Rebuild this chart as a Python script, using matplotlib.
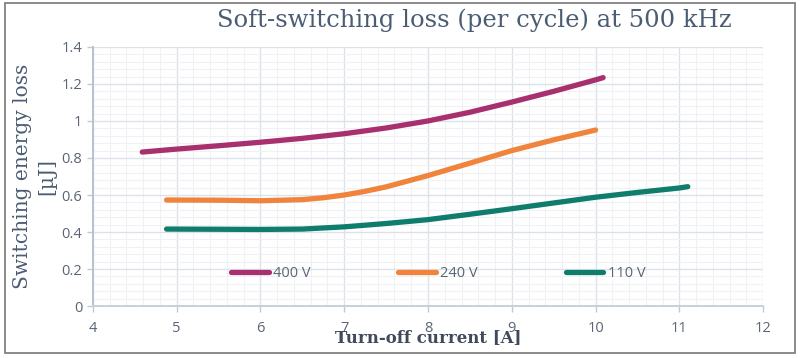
import matplotlib as mpl
import matplotlib.pyplot as plt
from matplotlib.patches import Rectangle
from matplotlib.ticker import MultipleLocator

# values
x_400 = [4.59, 5.0, 5.5, 6.0, 6.5, 7.0, 7.5, 8.0, 8.5, 9.0, 9.5, 10.0, 10.09]
y_400 = [0.832, 0.848, 0.866, 0.885, 0.906, 0.931, 0.962, 1.000, 1.047, 1.102, 1.160, 1.222, 1.234]

x_240 = [4.88, 5.5, 6.0, 6.5, 6.75, 7.0, 7.25, 7.5, 8.0, 8.5, 9.0, 9.5, 10.0]
y_240 = [0.573, 0.572, 0.569, 0.575, 0.585, 0.600, 0.620, 0.644, 0.705, 0.772, 0.840, 0.898, 0.951]

x_110 = [4.88, 5.5, 6.0, 6.5, 7.0, 7.5, 8.0, 8.5, 9.0, 9.5, 10.0, 10.5, 11.0, 11.1]
y_110 = [0.416, 0.415, 0.414, 0.416, 0.428, 0.446, 0.467, 0.496, 0.526, 0.557, 0.588, 0.614, 0.638, 0.645]

labels = ["400 V", "240 V", "110 V"]
colors = ["#a8306f", "#f0843c", "#0e7d6c"]

title_col = "#4b5d73"
tick_col = "#5b6575"

fig = plt.figure(figsize=(8, 3.58), dpi=100)
ax = fig.add_axes([0.116, 0.145, 0.838, 0.724])

for xs, ys, lab, c in zip([x_400, x_240, x_110], [y_400, y_240, y_110], labels, colors):
	ax.plot(xs, ys, color=c, lw=3.8, solid_capstyle='round', solid_joinstyle='round',
		label=lab, zorder=3)

ax.set_xlim(4, 12)
ax.set_ylim(0, 1.4)
ax.xaxis.set_major_locator(MultipleLocator(1))
ax.xaxis.set_minor_locator(MultipleLocator(0.2))
ax.yaxis.set_minor_locator(MultipleLocator(0.04))
ax.set_yticks([0, 0.2, 0.4, 0.6, 0.8, 1, 1.2, 1.4])
ax.set_yticklabels(["0", "0.2", "0.4", "0.6", "0.8", "1", "1.2", "1.4"])

ax.grid(which='major', color='#dde2ea', lw=1.0)
ax.grid(which='minor', color='#eff1f5', lw=0.8)
ax.set_axisbelow(True)

for s in ['top', 'right']:
	ax.spines[s].set_visible(False)
ax.spines['left'].set_color('#b7c2d0')
ax.spines['bottom'].set_color('#c9cfd9')
ax.spines['left'].set_linewidth(1.4)
ax.spines['bottom'].set_linewidth(1.4)

ax.tick_params(which='major', length=4.5, width=1.0, color='#c0c8d4', labelcolor=tick_col,
	labelsize=10.5, pad=3)
ax.tick_params(which='minor', length=0)
ax.tick_params(axis='x', pad=6)
for t in ax.get_xticklabels() + ax.get_yticklabels():
	t.set_fontfamily('Open Sans')

leg = ax.legend(ncol=3, loc='center', bbox_to_anchor=(0.515, 0.124), frameon=False,
	handlelength=2.6, handletextpad=0.3, columnspacing=6.0,
	prop={'family': 'Open Sans', 'size': 10.5})
for t in leg.get_texts():
	t.set_color(tick_col)

ax.set_ylabel("Switching energy loss\n[µJ]", family='DejaVu Serif', fontsize=14.5,
	color=title_col, linespacing=1.35)
ax.yaxis.set_label_coords(-0.054, 0.5)

ax.set_xlabel("Turn-off current [A]", family='DejaVu Serif', fontsize=12,
	fontweight='bold', color='#3f4a5a')
ax.xaxis.set_label_coords(0.501, -0.088)

fig.text(0.593, 0.944, "Soft-switching loss (per cycle) at 500 kHz", family='DejaVu Serif',
	fontsize=17.5, color=title_col, ha='center', va='center')

fig.patches.append(Rectangle((0.006, 0.013), 0.988, 0.978, transform=fig.transFigure,
	fill=False, edgecolor='#777777', lw=1.2))

fig.savefig('out.png', dpi=100)
